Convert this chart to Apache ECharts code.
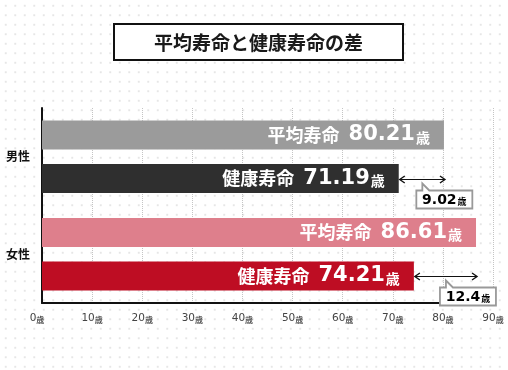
<!DOCTYPE html>
<html>
<head>
<meta charset="utf-8">
<script src="https://cdn.jsdelivr.net/npm/echarts@6/dist/echarts.min.js"></script>
<style>
html,body{margin:0;padding:0;background:#fff;}
#c{width:508px;height:370px;
background-image:radial-gradient(circle,#e6e6e6 0.9px,transparent 1.2px);
background-size:9.5px 9.5px;background-position:1px 1px;}
</style>
</head>
<body>
<div id="c"></div>
<script>
const titleText = '平均寿命と健康寿命の差';
const categories = ['男性', '女性'];
const avgLife = [80.21, 86.61];
const healthyLife = [71.19, 74.21];
const gapValues = ['9.02', '12.4'];
const xTicks = [0, 10, 20, 30, 40, 50, 60, 70, 80, 90];
const unit = '歳';

const BAR_W = 29;
const OFFSET = (BAR_W * 1.5) / 2;
const CJK = '"Noto Sans CJK JP", sans-serif';
const NUM = '"DejaVu Sans", sans-serif';

const avgColors = ['#9b9b9b', '#de7f8c'];
const healthyColors = ['#2f2f2f', '#be0d23'];

const chart = echarts.init(document.getElementById('c'), null, {renderer: 'canvas'});

const barLabel = {
  show: true,
  position: 'insideRight',
  distance: 14,
  formatter: p => '{n|' + p.seriesName + '}{v|' + p.value + '}{u|' + unit + '}',
  rich: {
    n: {fontFamily: CJK, fontWeight: 'bold', fontSize: 18, color: '#fff', padding: [0, 9, 0, 0]},
    v: {fontFamily: NUM, fontWeight: 'bold', fontSize: 21, color: '#fff'},
    u: {fontFamily: CJK, fontWeight: 'bold', fontSize: 14, color: '#fff', padding: [5, 0, 0, 1]}
  }
};

const gapData = categories.map((c, i) => [healthyLife[i], avgLife[i], i, gapValues[i]]);

function renderGap(params, api) {
  const p1 = api.coord([api.value(0), api.value(2)]);
  const p2 = api.coord([api.value(1), api.value(2)]);
  const y = Math.round(p1[1] + OFFSET) + 0.5;
  const xa = p1[0] + 1, xb = p2[0] + 1;
  const mid = (xa + xb) / 2;
  const top = y + 11, h = 18, w = 56;
  const L = mid - 6, R = L + w, B = top + h;
  const label = gapData[params.dataIndex][3];
  return {
    type: 'group',
    children: [
      {type: 'line', shape: {x1: xa, y1: y, x2: xb, y2: y}, style: {stroke: '#111', lineWidth: 1}},
      {type: 'polyline', shape: {points: [[xa + 5, y - 3.5], [xa, y], [xa + 5, y + 3.5]]}, style: {stroke: '#111', lineWidth: 1.4, fill: null}},
      {type: 'polyline', shape: {points: [[xb - 5, y - 3.5], [xb, y], [xb - 5, y + 3.5]]}, style: {stroke: '#111', lineWidth: 1.4, fill: null}},
      {type: 'polygon', shape: {points: [[L, top], [mid, top], [mid, y + 4], [mid + 7, top], [R, top], [R, B], [L, B]]},
        style: {fill: '#fff', stroke: '#999', lineWidth: 1.8}},
      {type: 'text', x: L + w / 2, y: top + h / 2 + 0.5,
        style: {text: '{a|' + label + '}{b|' + unit + '}', align: 'center', verticalAlign: 'middle',
          rich: {
            a: {fontFamily: NUM, fontWeight: 'bold', fontSize: 14, color: '#333'},
            b: {fontFamily: CJK, fontWeight: 'bold', fontSize: 9, color: '#333', padding: [4, 0, 0, 1]}
          }}}
    ]
  };
}

chart.setOption({
  animation: false,
  backgroundColor: 'transparent',
  title: {
    text: titleText,
    left: 114, top: 24,
    padding: [9, 40, 8, 40],
    borderColor: '#111', borderWidth: 2,
    backgroundColor: '#fff',
    textStyle: {fontFamily: CJK, fontWeight: 'bold', fontSize: 19, color: '#1a1a1a', lineHeight: 19}
  },
  grid: {left: 42, right: 15, top: 108, bottom: 67, containLabel: false},
  xAxis: {
    type: 'value', min: xTicks[0], max: xTicks[xTicks.length - 1], interval: xTicks[1] - xTicks[0],
    axisLine: {show: true, lineStyle: {color: '#111', width: 2}},
    axisTick: {show: false},
    splitLine: {show: true, lineStyle: {color: '#c4c4c4', type: 'dotted', width: 1}},
    axisLabel: {
      margin: 10,
      formatter: v => v === 0 ? '{v|' + v + '}{z|' + unit + '}' : '{v|' + v + '}{u|' + unit + '}',
      rich: {
        v: {fontFamily: NUM, fontSize: 10.5, color: '#444'},
        u: {fontFamily: CJK, fontSize: 8, fontWeight: 'bold', color: '#555', padding: [2, 0, 0, 0]},
        z: {fontFamily: CJK, fontSize: 8, fontWeight: 'bold', color: '#555', padding: [2, 10, 0, 0]}
      }
    }
  },
  yAxis: {
    type: 'category', data: categories, inverse: true,
    axisLine: {show: true, onZero: false, lineStyle: {color: '#111', width: 2}},
    axisTick: {show: false},
    axisLabel: {margin: 12, fontFamily: CJK, fontWeight: 'bold', fontSize: 12, color: '#111'}
  },
  series: [
    {
      name: '平均寿命', type: 'bar', barWidth: BAR_W, barGap: '50%',
      data: avgLife.map((v, i) => ({value: v, itemStyle: {color: avgColors[i]}})),
      label: barLabel
    },
    {
      name: '健康寿命', type: 'bar', barWidth: BAR_W, barGap: '50%',
      data: healthyLife.map((v, i) => ({value: v, itemStyle: {color: healthyColors[i]}})),
      label: barLabel
    },
    {
      type: 'custom', coordinateSystem: 'cartesian2d', clip: false, z: 5,
      encode: {x: [0, 1], y: 2},
      data: gapData,
      renderItem: renderGap
    }
  ]
});
</script>
</body>
</html>
